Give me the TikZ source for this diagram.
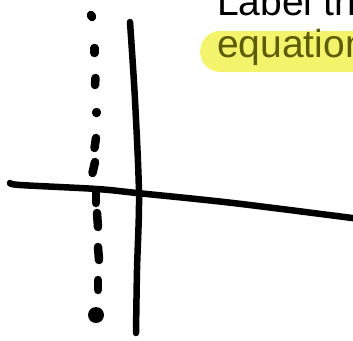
\documentclass[tikz,border=0pt]{standalone}
\usepackage{fontspec}
\setmainfont{Liberation Sans}
\usetikzlibrary{positioning}
\definecolor{marker}{HTML}{F4F46C}
\definecolor{inkolive}{HTML}{5C5C00}
\newcommand{\notefont}{\fontsize{39}{42}\selectfont}

\begin{document}
\begin{tikzpicture}[x=1pt, y=-1pt,
  stroke/.style={line width=6.5pt, line cap=round, line join=round},
  dotmark/.style={line width=8.5pt, line cap=round},
  hilite/.style={fill=marker, rounded corners=20pt, text=inkolive, inner xsep=17pt, inner ysep=0pt, text height=26pt, text depth=15pt}]
  \useasboundingbox (0,0) rectangle (353,340);
  \begin{scope}
    \clip (0,0) rectangle (353,340);
    % note text
    \node[anchor=base west, inner sep=0pt, font=\notefont] (labeltext) at (217,15) {Label the};
    \node[hilite, anchor=base west, font=\notefont] (eqtext) at (200,57) {equation};
    % dotted vertical
    \foreach \xa/\ya/\xb/\yb in {91/15/92/17, 94.5/48/94.5/53, 95.5/78/95/85, 96.5/112/96.5/113,
        96/138/94.5/148, 95/162/92.5/173, 96/193/96/203, 97/213/98/227, 98/247/99/260, 98/280/98/290}
      \draw[dotmark] (\xa,\ya) -- (\xb,\yb);
    \fill (96,315) circle (8pt);
    % solid vertical
    \draw[stroke] plot[smooth] coordinates {(130,22) (135,100) (139,195) (137,270) (136,333)};
    % horizontal
    \draw[stroke] plot[smooth] coordinates {(10,183) (20,185) (97,189) (137,193) (233,203) (360,219)};
  \end{scope}
\end{tikzpicture}
\end{document}
